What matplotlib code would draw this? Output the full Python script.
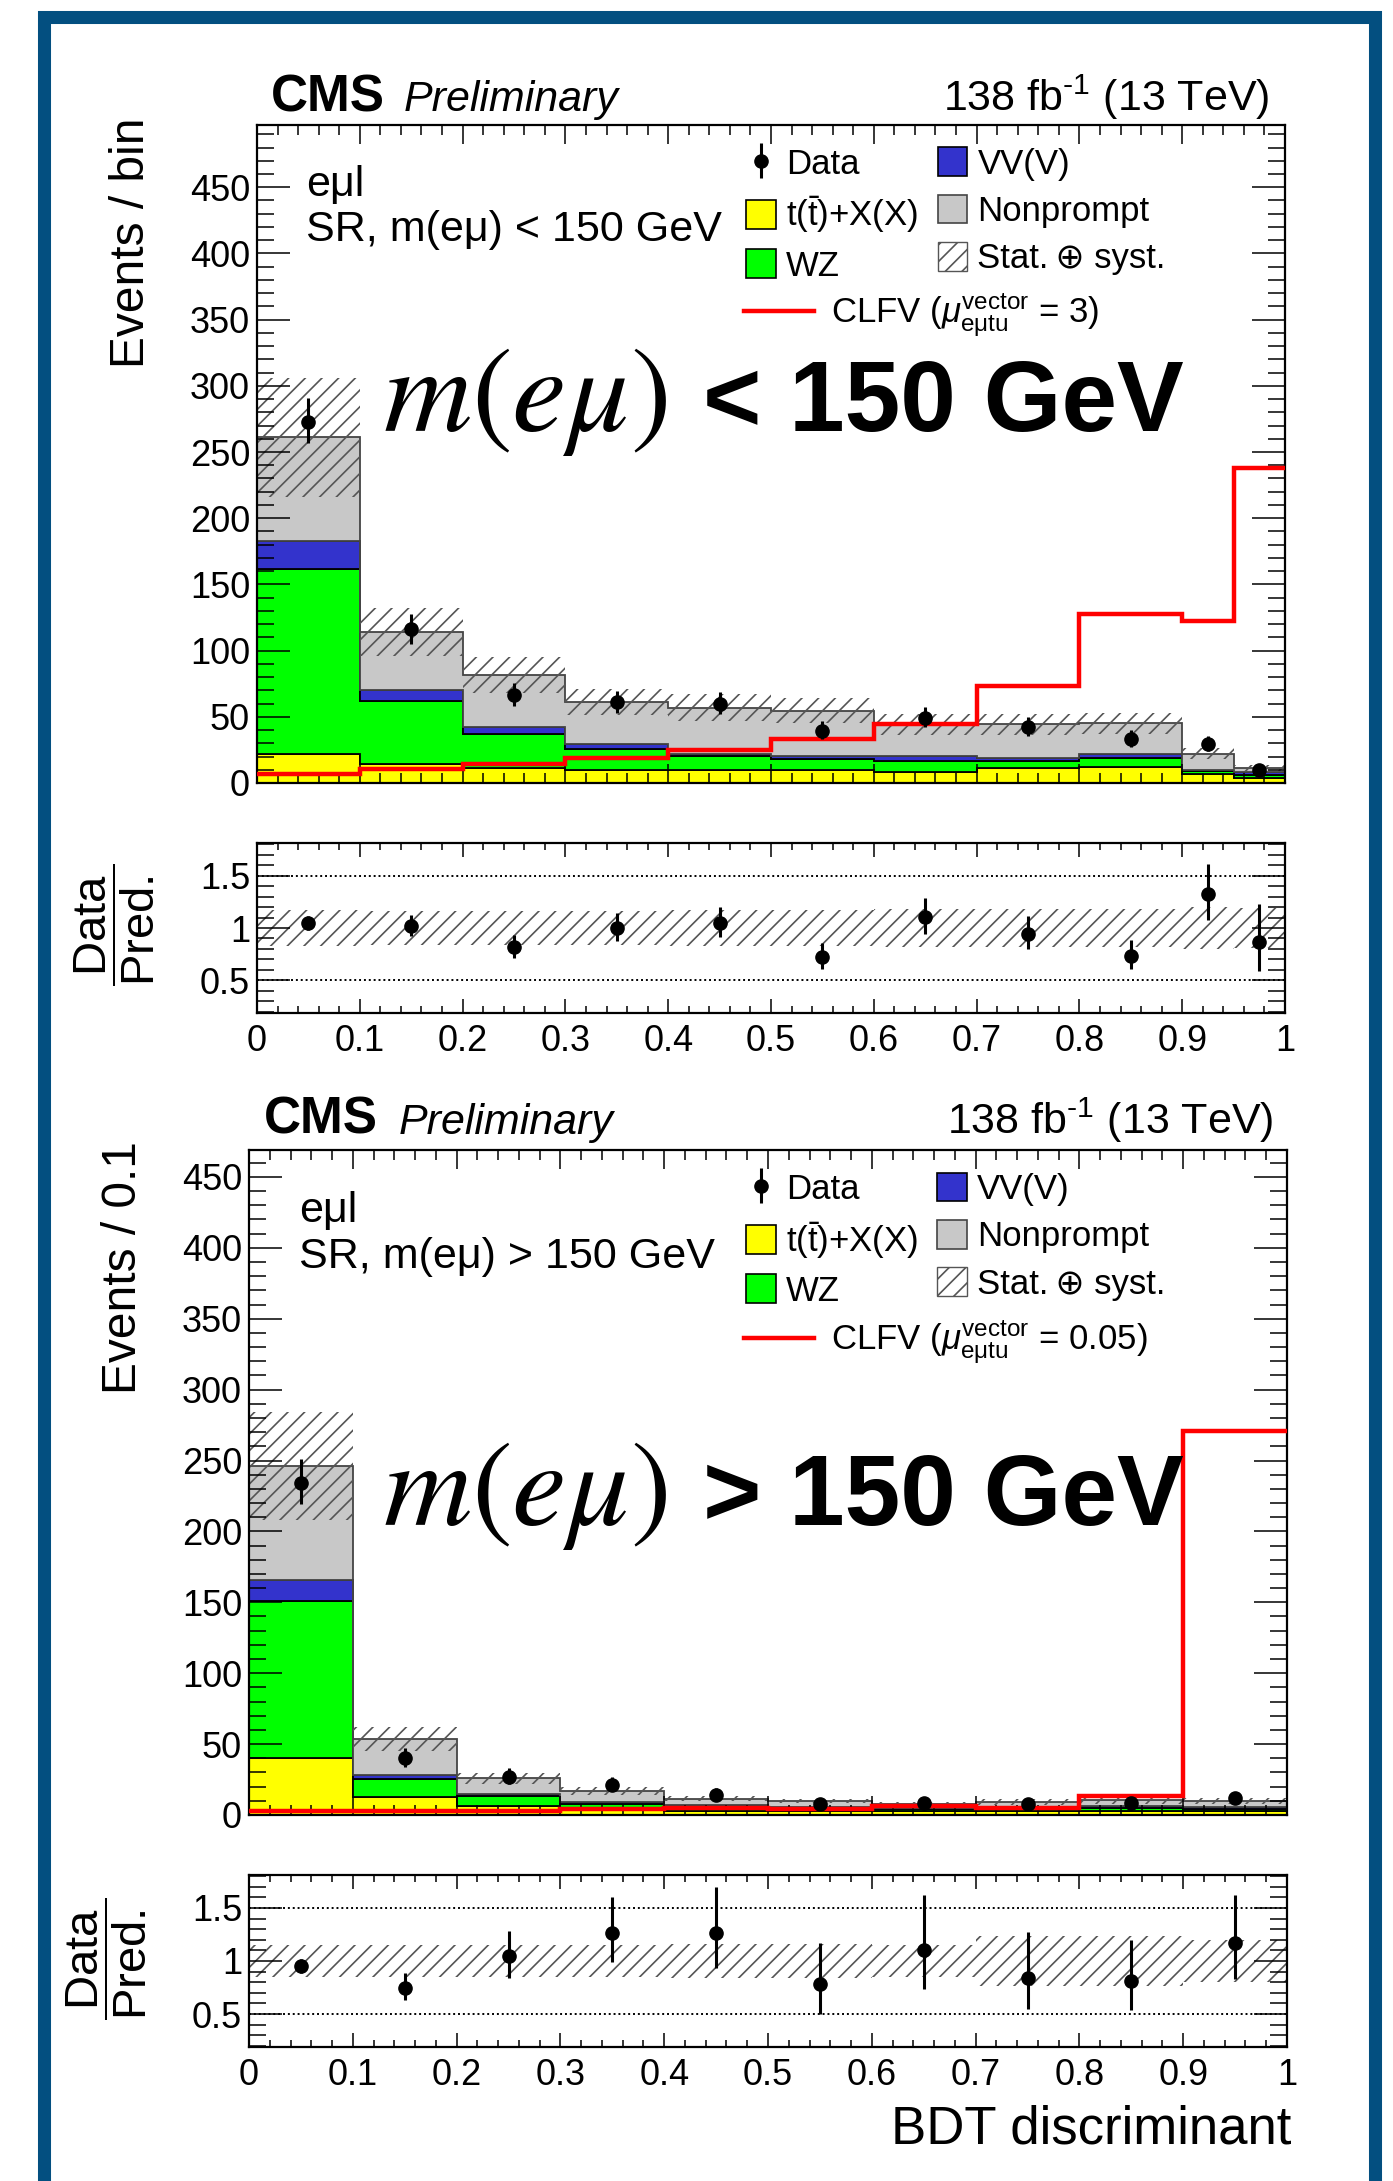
import numpy as np
import matplotlib.pyplot as plt
from matplotlib.lines import Line2D
from matplotlib.patches import Patch, Rectangle
from matplotlib.ticker import MultipleLocator, FuncFormatter

plt.rcParams['font.family'] = ['Liberation Sans', 'DejaVu Sans']
plt.rcParams['mathtext.fontset'] = 'custom'
plt.rcParams['mathtext.rm'] = 'Liberation Sans'
plt.rcParams['mathtext.it'] = 'Liberation Sans:italic'
plt.rcParams['mathtext.bf'] = 'Liberation Sans:bold'
plt.rcParams['hatch.linewidth'] = 1.2
plt.rcParams['hatch.color'] = '#555555'

# --- m(e mu) < 150 GeV region (last bin split in two) ---
edges_lo = np.array([0, 0.1, 0.2, 0.3, 0.4, 0.5, 0.6, 0.7, 0.8, 0.9, 0.95, 1.0])
ttx_lo = np.array([22, 14, 11, 9.6, 9.6, 9.6, 8.6, 11.6, 12, 6.5, 4])
wz_lo = np.array([140, 48, 26, 16.4, 10.9, 8.4, 8.1, 5.1, 7, 2.5, 2])
vv_lo = np.array([20.6, 8, 5, 3.5, 1.5, 2.5, 3.8, 2.5, 2.7, 1, 2])
nonp_lo = np.array([78.4, 44, 39.5, 31.5, 35, 34, 23.9, 25.2, 23.3, 12.2, 3.6])
unc_lo = np.array([45, 18, 13.5, 10, 10, 9.5, 8, 8, 8, 4.4, 2.2])
data_lo = np.array([273, 116, 66.5, 61, 59.6, 39.4, 49, 42, 33, 29.3, 10])
sig_lo = np.array([6.5, 10.5, 14.5, 19.2, 24.7, 33, 44.9, 73.5, 127.8, 122.7, 238])

# --- m(e mu) > 150 GeV region ---
edges_hi = np.round(np.arange(0, 1.01, 0.1), 2)
ttx_hi = np.array([40, 12.5, 6, 4, 3, 2.5, 2.5, 3, 3, 3])
wz_hi = np.array([111, 13, 7.7, 4, 2.8, 2, 1.5, 1.5, 2, 1.5])
vv_hi = np.array([14.8, 2.8, 1.3, 1, 1.2, 1, 1, 1, 1, 1])
nonp_hi = np.array([80.2, 25.3, 10.9, 7.8, 4.4, 4.5, 2.8, 3.5, 4.6, 4.5])
unc_hi = np.array([38, 8.3, 4, 2.6, 1.8, 1.6, 1.2, 2.1, 2.5, 2.0])
data_hi = np.array([234.4, 40, 27, 21.2, 14.4, 7.8, 8.6, 7.6, 8.6, 11.7])
sig_hi = np.array([3, 3, 3, 4.4, 4.6, 4.4, 6, 5, 13.7, 270.8])

W, H = 1393, 2181
fig = plt.figure(figsize=(W / 100, H / 100), dpi=100)


def box(x0, y0, x1, y1):
    # pixel box (top-left origin) -> figure fraction rect
    return [x0 / W, 1 - y1 / H, (x1 - x0) / W, (y1 - y0) / H]


def poisson_err(n):
    lo = np.sqrt(np.maximum(n - 0.25, 0))
    hi = np.sqrt(n + 0.75) + 1
    return lo, hi


fmt_g = FuncFormatter(lambda v, p: '%g' % round(v, 3))


def style(ax, xlen, ylen):
    ax.tick_params(which='both', direction='in', top=True, right=True,
                   width=1.1, labelsize=26)
    ax.tick_params(axis='x', which='major', length=xlen, pad=8)
    ax.tick_params(axis='x', which='minor', length=xlen / 2)
    ax.tick_params(axis='y', which='major', length=ylen, pad=5)
    ax.tick_params(axis='y', which='minor', length=ylen / 2)
    ax.xaxis.set_major_locator(MultipleLocator(0.1))
    ax.xaxis.set_minor_locator(MultipleLocator(0.02))
    ax.xaxis.set_major_formatter(fmt_g)
    for s in ax.spines.values():
        s.set_linewidth(1.6)


def draw_main(ax, edges, ttx, wz, vv, nonp, unc, data, sig, ymax):
    layers = [(ttx, '#ffff00', 'black'), (wz, '#00ff00', 'black'),
              (vv, '#3333cc', 'black'), (nonp, '#c8c8c8', '#444444')]
    base = np.zeros(len(ttx))
    for vals, col, ec in layers:
        top = base + vals
        ax.stairs(top, edges, baseline=base, fill=True, facecolor=col,
                  edgecolor=ec, lw=1.3)
        base = top
    total = base
    ax.stairs(total + unc, edges, baseline=total - unc, fill=True,
              facecolor='none', edgecolor='#555555', hatch='//', lw=0)
    ax.stairs(sig, edges, baseline=None, color='red', lw=3.2, zorder=3)
    centers = 0.5 * (edges[:-1] + edges[1:])
    lo, hi = poisson_err(data)
    h = ax.errorbar(centers, data, yerr=[lo, hi], fmt='o', color='black',
                    ms=9.5, elinewidth=2.2, capsize=0, zorder=5)
    ax.set_xlim(0, 1)
    ax.set_ylim(0, ymax)
    style(ax, 14, 24)
    ax.yaxis.set_major_locator(MultipleLocator(50))
    ax.yaxis.set_minor_locator(MultipleLocator(10))
    ax.tick_params(axis='x', labelbottom=False)
    return h, total


def draw_ratio(ax, edges, total, unc, data):
    rel = unc / total
    ax.stairs(1 + rel, edges, baseline=1 - rel, fill=True, facecolor='none',
              edgecolor='#555555', hatch='//', lw=0)
    for yv in (0.5, 1.5):
        ax.axhline(yv, ls=(0, (1, 1.5)), color='black', lw=1.4)
    centers = 0.5 * (edges[:-1] + edges[1:])
    lo, hi = poisson_err(data)
    ax.errorbar(centers, data / total, yerr=[lo / total, hi / total], fmt='o',
                color='black', ms=9.5, elinewidth=2.2, capsize=0, zorder=5)
    ax.set_xlim(0, 1)
    ax.set_ylim(0.19, 1.81)
    style(ax, 10, 24)
    ax.yaxis.set_major_locator(MultipleLocator(0.5))
    ax.yaxis.set_minor_locator(MultipleLocator(0.1))
    ax.yaxis.set_major_formatter(fmt_g)


def add_legend(ax, h_data, clfv_label, x0, y_top, y_clfv):
    handles = [h_data,
               Patch(facecolor='#ffff00', edgecolor='black', lw=1.2),
               Patch(facecolor='#00ff00', edgecolor='black', lw=1.2),
               Patch(facecolor='#3333cc', edgecolor='black', lw=1.2),
               Patch(facecolor='#c8c8c8', edgecolor='#444444', lw=1.2),
               Patch(facecolor='white', edgecolor='#555555', hatch='//', lw=1.0)]
    labels = ['Data', r't($\mathrm{\bar{t}}$)+X(X)', 'WZ', 'VV(V)',
              'Nonprompt', 'Stat.' + '\u2009\u2295 syst.']
    leg = ax.legend(handles, labels, ncol=2, loc='upper left',
                    bbox_to_anchor=(x0, y_top), frameon=False, fontsize=25,
                    handlelength=0.85, handleheight=0.9, handletextpad=0.3,
                    columnspacing=0.55, labelspacing=0.4, borderpad=0,
                    borderaxespad=0)
    ax.add_artist(leg)
    ax.legend([Line2D([], [], color='red', lw=3.2)], [clfv_label],
              loc='upper left', bbox_to_anchor=(x0 - 0.002, y_clfv),
              frameon=False, fontsize=25, handlelength=2.0, handletextpad=0.5,
              borderpad=0, borderaxespad=0)


# upper block
ax1 = fig.add_axes(box(257, 125, 1285, 783))
h1, tot_lo = draw_main(ax1, edges_lo, ttx_lo, wz_lo, vv_lo, nonp_lo, unc_lo,
                       data_lo, sig_lo, 497)
add_legend(ax1, h1, r'CLFV ($\mu^{\mathrm{vector}}_{\mathrm{e\mu tu}}$ = 3)',
           0.476, 0.966, 0.746)
ax1.text(0.048, 0.909, 'e\u03bcl', transform=ax1.transAxes, fontsize=31, va='center')
ax1.text(0.048, 0.840, 'SR, m(e\u03bc) < 150 GeV', transform=ax1.transAxes,
         fontsize=31, va='center')

ax1r = fig.add_axes(box(257, 843, 1285, 1013))
draw_ratio(ax1r, edges_lo, tot_lo, unc_lo, data_lo)

# lower block
ax2 = fig.add_axes(box(249, 1150, 1287, 1815))
h2, tot_hi = draw_main(ax2, edges_hi, ttx_hi, wz_hi, vv_hi, nonp_hi, unc_hi,
                       data_hi, sig_hi, 469)
add_legend(ax2, h2, r'CLFV ($\mu^{\mathrm{vector}}_{\mathrm{e\mu tu}}$ = 0.05)',
           0.479, 0.966, 0.746)
ax2.text(0.048, 0.908, 'e\u03bcl', transform=ax2.transAxes, fontsize=31, va='center')
ax2.text(0.048, 0.839, 'SR, m(e\u03bc) > 150 GeV', transform=ax2.transAxes,
         fontsize=31, va='center')

ax2r = fig.add_axes(box(249, 1875, 1287, 2047))
draw_ratio(ax2r, edges_hi, tot_hi, unc_hi, data_hi)

# headers
for xc, xp, xl, yb in [(271, 404, 1269, 111), (264, 399, 1273, 1134)]:
    fig.text(xc / W, 1 - yb / H, 'CMS', fontsize=37, fontweight='bold', va='baseline')
    fig.text(xp / W, 1 - yb / H, 'Preliminary', fontsize=31, style='italic', va='baseline')
    fig.text(xl / W, 1 - yb / H, '138 fb$^{\\mathrm{\u2010}1}$ (13 TeV)', fontsize=31,
             ha='right', va='baseline')

# axis titles
fig.text(132 / W, 1 - 118 / H, 'Events / bin', rotation=90, fontsize=34.5,
         ha='center', va='top')
fig.text(124 / W, 1 - 1141 / H, 'Events / 0.1', rotation=90, fontsize=34.5,
         ha='center', va='top')
for xc, yc in [(115, 925), (107, 1959)]:
    fig.text(xc / W, 1 - yc / H, r'$\dfrac{\mathrm{Data}}{\mathrm{Pred.}}$',
             rotation=90, fontsize=34, ha='center', va='center')
fig.text(1291 / W, 1 - 2129 / H, 'BDT discriminant', fontsize=38, ha='right',
         va='center')

# region labels overlaid on the panels
for base_y, sign in [(431, '<'), (1525, '>')]:
    fig.text(383 / W, 1 - base_y / H, r'$m(e\mu)$', fontsize=88,
             math_fontfamily='stix', va='baseline')
    fig.text(703 / W, 1 - base_y / H, sign + ' 150 GeV', fontsize=72,
             fontweight='bold', va='baseline')

# slide frame
fig.patches.append(Rectangle((43.5 / W, 1 - 2300 / H), (1375 - 43.5) / W,
                             (2300 - 16.5) / H, transform=fig.transFigure,
                             fill=False, lw=9.4, edgecolor='#034f80'))

fig.savefig('out.png', dpi=100)
